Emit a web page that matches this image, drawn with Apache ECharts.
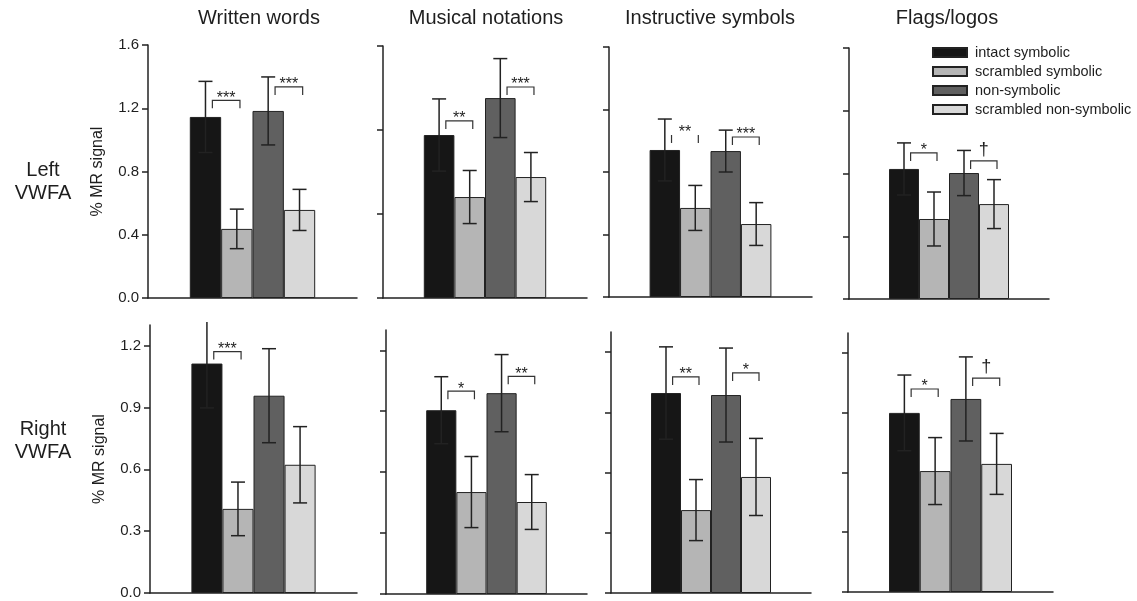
<!DOCTYPE html>
<html>
<head>
<meta charset="utf-8">
<script src="https://cdn.jsdelivr.net/npm/echarts@6/dist/echarts.min.js"></script>
<style>
  html, body { margin: 0; padding: 0; background: #fff; }
  #main { width: 1137px; height: 601px; }
</style>
</head>
<body>
<div id="main"></div>
<script>
const conditions = ['intact symbolic', 'scrambled symbolic', 'non-symbolic', 'scrambled non-symbolic'];
const categories = ['Written words', 'Musical notations', 'Instructive symbols', 'Flags/logos'];
const rowNames = ['Left\nVWFA', 'Right\nVWFA'];

// mean % MR signal per category, one value per condition
const leftMeans = [
  [1.145, 0.437, 1.183, 0.557],
  [0.970, 0.601, 1.190, 0.720],
  [0.941, 0.570, 0.934, 0.467],
  [0.829, 0.510, 0.803, 0.605]
];
const leftErrors = [
  [0.225, 0.125, 0.215, 0.130],
  [0.215, 0.158, 0.235, 0.146],
  [0.198, 0.144, 0.134, 0.137],
  [0.166, 0.172, 0.144, 0.156]
];
const rightMeans = [
  [1.113, 0.408, 0.957, 0.622],
  [0.905, 0.502, 0.989, 0.453],
  [0.996, 0.413, 0.986, 0.578],
  [0.899, 0.607, 0.969, 0.643]
];
const rightErrors = [
  [0.215, 0.130, 0.228, 0.185],
  [0.165, 0.175, 0.190, 0.135],
  [0.230, 0.152, 0.234, 0.192],
  [0.190, 0.168, 0.211, 0.153]
];

// significance brackets: [first bar, second bar, height, label]
const leftSig = [
  [[0, 1, 1.25, '***'], [2, 3, 1.335, '***']],
  [[0, 1, 1.054, '**'], [2, 3, 1.256, '***']],
  [[0, 1, 1.037, '**'], [2, 3, 1.024, '***']],
  [[0, 1, 0.931, '*'], [2, 3, 0.880, '†']]
];
const rightSig = [
  [[0, 1, 1.171, '***']],
  [[0, 1, 0.999, '*'], [2, 3, 1.072, '**']],
  [[0, 1, 1.076, '**'], [2, 3, 1.096, '*']],
  [[0, 1, 1.019, '*'], [2, 3, 1.074, '†']]
];
// bracket drawn without its top line (row, panel, bracket)
const openBrackets = [[0, 2, 0]];

const leftMax = [1.6, 1.5, 1.6, 1.6];
const leftTicks = [
  [0, 0.4, 0.8, 1.2, 1.6],
  [0, 0.5, 1.0, 1.5],
  [0, 0.4, 0.8, 1.2, 1.6],
  [0, 0.4, 0.8, 1.2, 1.6]
];
const rightMax = [1.3, 1.3, 1.3, 1.3];
const rightTicks = [0, 0.3, 0.6, 0.9, 1.2];

// layout
const colors = ['#161616', '#b5b5b5', '#606060', '#d8d8d8'];
const FONT = '"Liberation Sans", Arial, sans-serif';
const INK = '#1e1e1e';
const GAP = 0.4;
const gridBoxes = [
  [[148, 45, 209, 253], [383, 46, 204, 252], [609, 47, 203, 250], [849, 48, 200, 251]],
  [[150, 325, 207, 268], [386, 330, 201, 264], [611, 332, 200, 261], [848, 333, 205, 259]]
];
const titleX = [259, 486, 710, 947];
const rowLabelY = [182, 441];

function barCenter(cs, k) {
  const w = cs.width * (1 - GAP) / 4;
  return cs.x + cs.width / 2 - 2 * w + (k + 0.5) * w;
}

function renderErr(params, api) {
  const cs = params.coordSys;
  const x = barCenter(cs, api.value(0));
  const m = api.value(1), e = api.value(2);
  const top = api.coord([0, m + e])[1];
  const bot = api.coord([0, m - e])[1];
  const style = { stroke: '#222', lineWidth: 1.5 };
  const cap = 7;
  const kids = [];
  if (top < cs.y) {
    kids.push({ type: 'line', shape: { x1: x, y1: cs.y - 3, x2: x, y2: bot }, style });
  } else {
    kids.push({ type: 'line', shape: { x1: x, y1: top, x2: x, y2: bot }, style });
    kids.push({ type: 'line', shape: { x1: x - cap, y1: top, x2: x + cap, y2: top }, style });
  }
  kids.push({ type: 'line', shape: { x1: x - cap, y1: bot, x2: x + cap, y2: bot }, style });
  return { type: 'group', children: kids };
}

function makeSig(list, r, c) {
  return function (params, api) {
    const s = list[params.dataIndex];
    const cs = params.coordSys;
    const w = cs.width * (1 - GAP) / 4;
    const x1 = barCenter(cs, s[0]) + 0.22 * w;
    const x2 = barCenter(cs, s[1]) + 0.1 * w;
    const y = api.coord([0, s[2]])[1];
    const tip = 8;
    const style = { stroke: '#333', lineWidth: 1.2, fill: null };
    const open = openBrackets.some(o => o[0] === r && o[1] === c && o[2] === params.dataIndex);
    const kids = [];
    if (open) {
      kids.push({ type: 'line', shape: { x1: x1, y1: y, x2: x1, y2: y + tip }, style });
      kids.push({ type: 'line', shape: { x1: x2, y1: y, x2: x2, y2: y + tip }, style });
    } else {
      kids.push({ type: 'polyline', shape: { points: [[x1, y + tip], [x1, y], [x2, y], [x2, y + tip]] }, style });
    }
    const dagger = s[3] === '†';
    kids.push({
      type: 'text',
      x: (x1 + x2) / 2,
      y: dagger ? y - 11 : y - 2,
      style: {
        text: s[3], fill: INK, align: 'center', verticalAlign: 'middle',
        fontSize: dagger ? 18 : 16, fontFamily: FONT
      }
    });
    return { type: 'group', children: kids };
  };
}

const rows = [
  { means: leftMeans, errs: leftErrors, sig: leftSig, max: leftMax, ticks: leftTicks },
  { means: rightMeans, errs: rightErrors, sig: rightSig, max: rightMax, ticks: categories.map(() => rightTicks) }
];

const grid = [], xAxis = [], yAxis = [], series = [];
const axisLine = { show: true, lineStyle: { color: '#222', width: 1.5 } };

rows.forEach((row, r) => {
  categories.forEach((cat, c) => {
    const idx = grid.length;
    const b = gridBoxes[r][c];
    grid.push({ left: b[0], top: b[1], width: b[2], height: b[3] });
    xAxis.push({
      gridIndex: idx, type: 'category', data: [''],
      axisLine: axisLine, axisTick: { show: false }, axisLabel: { show: false }
    });
    yAxis.push({
      gridIndex: idx, type: 'value', min: 0, max: row.max[c],
      name: c === 0 ? '% MR signal' : '',
      nameLocation: 'middle', nameGap: 42, nameRotate: 90,
      nameTextStyle: { fontSize: 16, fontFamily: FONT, color: INK },
      axisLine: axisLine,
      axisTick: { show: true, length: 6, customValues: row.ticks[c], lineStyle: { color: '#222', width: 1.5 } },
      axisLabel: {
        show: c === 0, customValues: row.ticks[c], margin: 9,
        formatter: v => v.toFixed(1), fontSize: 15, fontFamily: FONT, color: INK
      },
      splitLine: { show: false }
    });
    conditions.forEach((name, k) => {
      series.push({
        type: 'bar', name: name, xAxisIndex: idx, yAxisIndex: idx,
        data: [row.means[c][k]],
        barGap: '0%', barCategoryGap: (GAP * 100) + '%',
        itemStyle: { color: colors[k], borderColor: '#222', borderWidth: 1 },
        silent: true
      });
    });
    series.push({
      type: 'custom', xAxisIndex: idx, yAxisIndex: idx, z: 5, silent: true,
      renderItem: renderErr,
      data: row.means[c].map((m, k) => [k, m, row.errs[c][k]])
    });
    series.push({
      type: 'custom', xAxisIndex: idx, yAxisIndex: idx, z: 5, silent: true,
      renderItem: makeSig(row.sig[c], r, c),
      data: row.sig[c].map(s => [s[0], s[2]])
    });
  });
});

const graphic = [];
categories.forEach((t, i) => {
  graphic.push({
    type: 'text', x: titleX[i], y: 18,
    style: { text: t, fill: INK, fontSize: 20, fontFamily: FONT, align: 'center', verticalAlign: 'middle' }
  });
});
rowNames.forEach((t, i) => {
  graphic.push({
    type: 'text', x: 43, y: rowLabelY[i],
    style: { text: t, fill: INK, fontSize: 20, lineHeight: 23, fontFamily: FONT, align: 'center', verticalAlign: 'middle' }
  });
});

const chart = echarts.init(document.getElementById('main'));
chart.setOption({
  animation: false,
  backgroundColor: '#fff',
  legend: {
    data: conditions.map(n => ({ name: n, icon: 'rect' })),
    orient: 'vertical', left: 932, top: 45, padding: 0,
    itemWidth: 34, itemHeight: 9, itemGap: 4, selectedMode: false,
    textStyle: { fontSize: 14.5, fontFamily: FONT, color: INK, padding: [0, 0, 0, 3] }
  },
  grid: grid,
  xAxis: xAxis,
  yAxis: yAxis,
  graphic: graphic,
  series: series
});
</script>
</body>
</html>
